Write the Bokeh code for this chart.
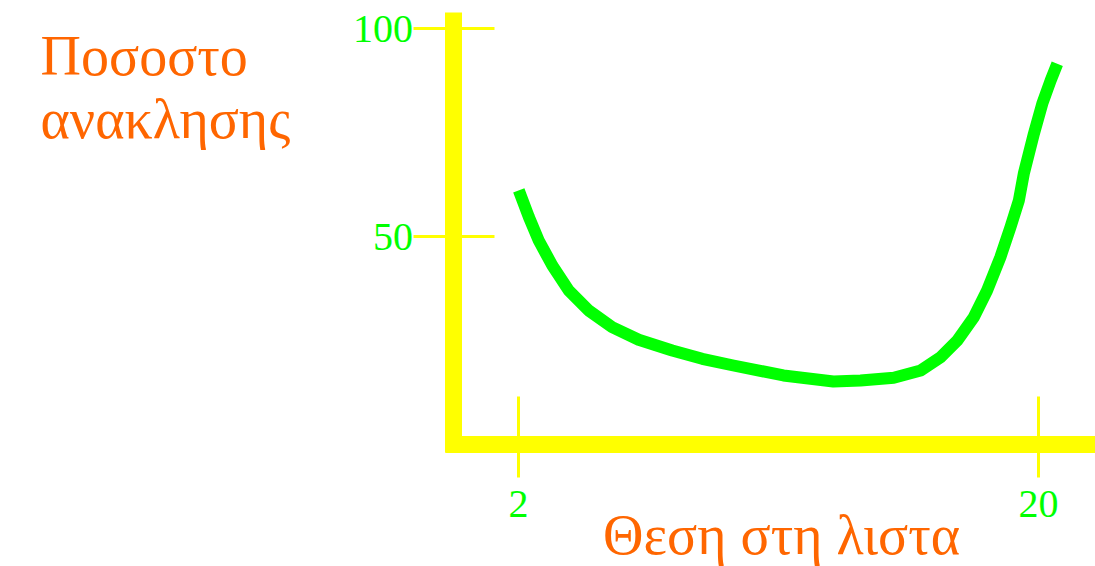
from bokeh.plotting import figure
from bokeh.models import Range1d, FixedTicker, Label
from bokeh.embed import file_html
from bokeh.resources import INLINE

# Data
position = [2.01, 2.36, 2.70, 3.17, 3.74, 4.43, 5.24, 6.16, 7.32, 8.36, 9.44,
            11.17, 12.90, 13.84, 14.99, 15.92, 16.61, 17.19, 17.76, 18.22,
            18.68, 19.03, 19.32, 19.49, 19.84, 20.13, 20.42, 20.65]
recall = [61.06, 54.64, 49.04, 43.03, 37.02, 32.21, 28.20, 25.17, 22.60, 20.60,
          18.99, 16.59, 15.14, 15.38, 16.03, 17.79, 20.99, 25.00, 30.60, 37.02,
          45.02, 52.24, 58.65, 65.07, 74.69, 81.90, 87.50, 91.51]
x_ticks = [2, 20]
y_ticks = [50, 100]
y_title_lines = ["Ποσοστο", "ανακλησης"]
x_title = "Θεση στη λιστα"

YELLOW = "#ffff00"
GREEN = "#00ff00"
ORANGE = "#ff6600"
SERIF = "Liberation Serif"

p = figure(width=1095, height=566, output_backend="svg", toolbar_location=None,
           x_range=Range1d(-15.931, 21.973), y_range=Range1d(-29.327, 106.731),
           min_border=0, min_border_left=0, min_border_right=0,
           min_border_top=0, min_border_bottom=0)
p.background_fill_color = "white"
p.border_fill_color = "white"
p.outline_line_color = None
p.xgrid.visible = False
p.ygrid.visible = False

for ax in (p.xaxis[0], p.yaxis[0]):
    ax.axis_line_color = YELLOW
    ax.axis_line_width = 17
    ax.major_tick_line_color = YELLOW
    ax.major_tick_line_width = 3
    ax.minor_tick_line_color = None
    ax.major_label_text_color = GREEN
    ax.major_label_text_font = SERIF
    ax.major_label_text_font_size = "40px"

xa = p.xaxis[0]
ya = p.yaxis[0]
xa.ticker = FixedTicker(ticks=x_ticks)
ya.ticker = FixedTicker(ticks=y_ticks)
xa.fixed_location = 0
ya.fixed_location = -0.233
xa.bounds = (-0.527, 21.973)
ya.bounds = (-1.92, 103.85)
xa.major_tick_in = 48
xa.major_tick_out = 33
xa.major_label_standoff = 14
ya.major_tick_in = 41
ya.major_tick_out = 40
ya.major_label_standoff = 1

p.line(position, recall, line_color=GREEN, line_width=12, line_join="round")

TITLE_SIZE = "56px"
p.add_layout(Label(x=40, y=511, x_units="screen", y_units="screen",
                   text=y_title_lines[0], text_color=ORANGE, text_font=SERIF,
                   text_font_size=TITLE_SIZE, text_align="left", text_baseline="alphabetic"))
p.add_layout(Label(x=40, y=448, x_units="screen", y_units="screen",
                   text=y_title_lines[1], text_color=ORANGE, text_font=SERIF,
                   text_font_size=TITLE_SIZE, text_align="left", text_baseline="alphabetic"))
p.add_layout(Label(x=781, y=32, x_units="screen", y_units="screen",
                   text=x_title, text_color=ORANGE, text_font=SERIF,
                   text_font_size=TITLE_SIZE, text_align="center", text_baseline="alphabetic"))

open("out.html", "w").write(file_html(p, INLINE))
